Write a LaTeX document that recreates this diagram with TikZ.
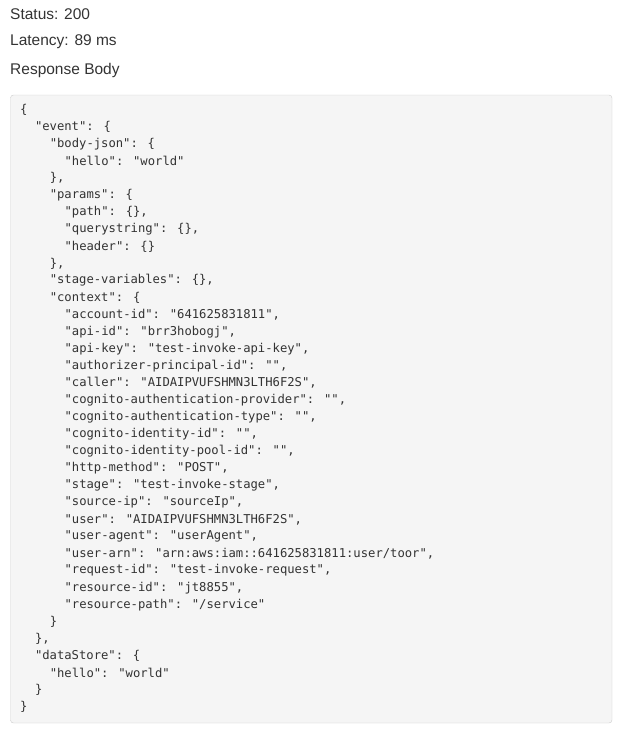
\documentclass[tikz,border=0pt]{standalone}
\usepackage{fontspec}
\setmainfont{Liberation Sans}
\newfontfamily\codefont{DejaVu Sans Mono}[Scale=1]
\definecolor{boxfill}{HTML}{F5F5F5}
\definecolor{boxline}{HTML}{CCCCCC}
\definecolor{txt}{HTML}{333333}
\newcommand{\cl}[3]{\node[codeln] (l#1) at ({20pt+7.4pt*#2},{-110pt-17.06pt*(#1-1)}) {#3};}
\tikzset{
  codeln/.style={anchor=west,inner sep=0pt,font=\codefont\fontsize{12.2pt}{14pt}\selectfont,text=txt},
  head/.style={anchor=west,inner sep=0pt,font=\fontsize{15.5pt}{18pt}\selectfont,text=txt}
}
\begin{document}
\begin{tikzpicture}[x=1pt,y=1pt]
\useasboundingbox (0,0) rectangle (625,-732);
\node[head] (s) at (10,-14) {Status: 200};
\node[head] (lat) at (10,-42) {Latency: 89 ms};
\node[head] (rb) at (10,-70) {Response Body};
\draw[boxline,fill=boxfill,rounded corners=3pt] (10.5,-95) rectangle (612,-723);
\cl{1}{0}{\{}
\cl{2}{2}{"event": \{}
\cl{3}{4}{"body-json": \{}
\cl{4}{6}{"hello": "world"}
\cl{5}{4}{\},}
\cl{6}{4}{"params": \{}
\cl{7}{6}{"path": \{\},}
\cl{8}{6}{"querystring": \{\},}
\cl{9}{6}{"header": \{\}}
\cl{10}{4}{\},}
\cl{11}{4}{"stage-variables": \{\},}
\cl{12}{4}{"context": \{}
\cl{13}{6}{"account-id": "641625831811",}
\cl{14}{6}{"api-id": "brr3hobogj",}
\cl{15}{6}{"api-key": "test-invoke-api-key",}
\cl{16}{6}{"authorizer-principal-id": "",}
\cl{17}{6}{"caller": "AIDAIPVUFSHMN3LTH6F2S",}
\cl{18}{6}{"cognito-authentication-provider": "",}
\cl{19}{6}{"cognito-authentication-type": "",}
\cl{20}{6}{"cognito-identity-id": "",}
\cl{21}{6}{"cognito-identity-pool-id": "",}
\cl{22}{6}{"http-method": "POST",}
\cl{23}{6}{"stage": "test-invoke-stage",}
\cl{24}{6}{"source-ip": "sourceIp",}
\cl{25}{6}{"user": "AIDAIPVUFSHMN3LTH6F2S",}
\cl{26}{6}{"user-agent": "userAgent",}
\cl{27}{6}{"user-arn": "arn:aws:iam::641625831811:user/toor",}
\cl{28}{6}{"request-id": "test-invoke-request",}
\cl{29}{6}{"resource-id": "jt8855",}
\cl{30}{6}{"resource-path": "/service"}
\cl{31}{4}{\}}
\cl{32}{2}{\},}
\cl{33}{2}{"dataStore": \{}
\cl{34}{4}{"hello": "world"}
\cl{35}{2}{\}}
\cl{36}{0}{\}}
\end{tikzpicture}
\end{document}
